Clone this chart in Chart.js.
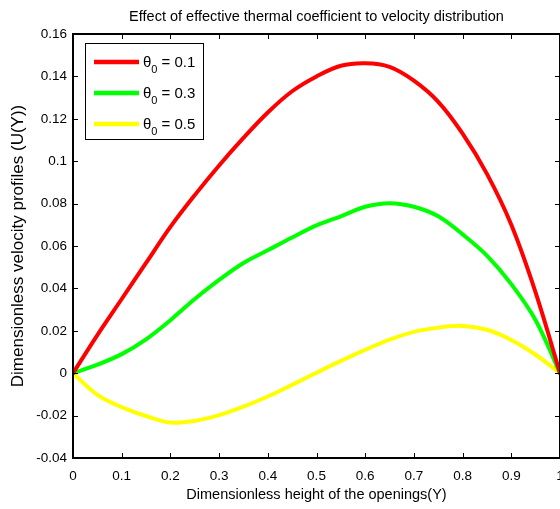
<!DOCTYPE html>
<html><head><meta charset="utf-8">
<script src="https://cdn.jsdelivr.net/npm/chart.js@4/dist/chart.umd.min.js"></script>
<style>
html,body{margin:0;padding:0;overflow:hidden;background:#fff;}
#wrap{width:560px;height:509px;overflow:hidden;position:relative;}
canvas{display:block;}
</style></head><body>
<div id="wrap"><canvas id="c" width="563" height="509"></canvas></div>
<script>
// ---- data ----
const yPositions = [0,0.05,0.1,0.15,0.2,0.25,0.3,0.35,0.4,0.45,0.5,0.55,0.6,0.65,0.7,0.75,0.8,0.85,0.9,0.95,1];
const thetaValues = [0.1, 0.3, 0.5];
const uTheta01 = [0,0.018,0.035,0.052,0.069,0.084,0.098,0.111,0.123,0.133,0.140,0.145,0.1462,0.1445,0.138,0.128,0.113,0.094,0.070,0.038,0];
const uTheta03 = [0,0.004,0.009,0.016,0.025,0.035,0.044,0.052,0.058,0.064,0.0697,0.074,0.0785,0.0802,0.0785,0.074,0.0655,0.0555,0.042,0.025,0];
const uTheta05 = [0,-0.0102,-0.016,-0.0202,-0.0233,-0.0225,-0.0198,-0.0158,-0.011,-0.0055,0.0002,0.0058,0.011,0.0158,0.0195,0.0215,0.0223,0.0205,0.0157,0.0087,0];
const seriesColors = ['#ff0000','#00ff00','#ffff00'];
const xTickValues = [0,0.1,0.2,0.3,0.4,0.5,0.6,0.7,0.8,0.9,1];
const xTickLabels = ['0','0.1','0.2','0.3','0.4','0.5','0.6','0.7','0.8','0.9','1'];
const yTickValues = [-0.04,-0.02,0,0.02,0.04,0.06,0.08,0.1,0.12,0.14,0.16];
const yTickLabels = ['-0.04','-0.02','0','0.02','0.04','0.06','0.08','0.1','0.12','0.14','0.16'];
const titleText = 'Effect of effective thermal coefficient to velocity distribution';
const xTitle = 'Dimensionless height of the openings(Y)';
const yTitle = 'Dimensionless velocity profiles (U(Y))';

const FONT = '"Liberation Sans", Arial, sans-serif';
const series = [uTheta01, uTheta03, uTheta05];

const datasets = series.map((vals, i) => ({
  label: 'θ\u2080 = ' + thetaValues[i],
  data: yPositions.map((x, j) => ({x: x, y: vals[j]})),
  borderColor: seriesColors[i],
  backgroundColor: seriesColors[i],
  borderWidth: 4,
  pointRadius: 0,
  fill: false,
  tension: 0.35,
  borderCapStyle: 'round',
  borderJoinStyle: 'round'
}));

const matlabAxes = {
  id: 'matlabAxes',
  afterLayout(chart) {
    const tb = chart.titleBlock;
    if (tb) { tb.left = chart.chartArea.left; tb.right = chart.chartArea.right; tb.width = tb.right - tb.left; }
  },
  afterDatasetsDraw(chart) {
    const {ctx, chartArea: a, scales} = chart;
    ctx.save();
    ctx.strokeStyle = '#000';
    // inward ticks
    ctx.lineWidth = 1;
    const tl = 5;
    ctx.beginPath();
    xTickValues.forEach(v => {
      const px = Math.round(scales.x.getPixelForValue(v)) + 0.5;
      ctx.moveTo(px, a.bottom); ctx.lineTo(px, a.bottom - tl);
      ctx.moveTo(px, a.top); ctx.lineTo(px, a.top + tl);
    });
    yTickValues.forEach(v => {
      const py = Math.round(scales.y.getPixelForValue(v)) + 0.5;
      ctx.moveTo(a.left, py); ctx.lineTo(a.left + tl, py);
      ctx.moveTo(a.right, py); ctx.lineTo(a.right - tl, py);
    });
    ctx.stroke();
    // box
    ctx.lineWidth = 2;
    ctx.strokeRect(a.left, a.top, a.right - a.left, a.bottom - a.top);

    // legend
    const lx = 85.5, ly = 43.5, lw = 118, lh = 96;
    ctx.fillStyle = '#fff';
    ctx.fillRect(lx, ly, lw, lh);
    ctx.lineWidth = 1;
    ctx.strokeRect(lx, ly, lw, lh);
    chart.data.datasets.forEach((ds, i) => {
      const ry = 62 + i * 31;
      ctx.strokeStyle = ds.borderColor;
      ctx.lineWidth = 4.5;
      ctx.lineCap = 'butt';
      ctx.beginPath(); ctx.moveTo(94, ry); ctx.lineTo(139, ry); ctx.stroke();
      ctx.fillStyle = '#000';
      ctx.textAlign = 'left';
      ctx.textBaseline = 'alphabetic';
      ctx.font = '15px ' + FONT;
      let x = 143;
      ctx.fillText('θ', x, ry + 5);
      x += ctx.measureText('θ').width;
      ctx.font = '11px ' + FONT;
      ctx.fillText('0', x, ry + 11);
      x += ctx.measureText('0').width + 4;
      ctx.font = '15px ' + FONT;
      ctx.fillText('= ' + thetaValues[i], x, ry + 5);
    });
    ctx.restore();
  }
};

new Chart(document.getElementById('c'), {
  type: 'line',
  data: {datasets},
  options: {
    responsive: false,
    animation: false,
    events: [],
    layout: {padding: {left: 0, right: 3, top: 0, bottom: 0}},
    plugins: {
      legend: {display: false},
      tooltip: {enabled: false},
      title: {
        display: true, text: titleText, color: '#000',
        font: {family: FONT, size: 14.5, weight: 'normal', lineHeight: 1.2},
        padding: {top: 8.5, bottom: 8.1}
      }
    },
    scales: {
      x: {
        type: 'linear', min: 0, max: 1,
        afterFit: s => { s.height = 51; s.paddingLeft = 0; s.paddingRight = 0; },
        afterBuildTicks: s => { s.ticks = xTickValues.map(v => ({value: v})); },
        grid: {display: false, drawTicks: false},
        border: {display: false},
        ticks: {
          color: '#000', padding: 10, maxRotation: 0, autoSkip: false,
          font: {family: FONT, size: 13.5},
          callback: (v, i) => xTickLabels[i]
        },
        title: {display: true, text: xTitle, color: '#000',
          font: {family: FONT, size: 14.5}, padding: {top: 0, bottom: 5.3}}
      },
      y: {
        type: 'linear', min: -0.04, max: 0.16,
        afterFit: s => { s.width = 73; s.paddingTop = 0; s.paddingBottom = 0; },
        afterBuildTicks: s => { s.ticks = yTickValues.map(v => ({value: v})); },
        grid: {display: false, drawTicks: false},
        border: {display: false},
        ticks: {
          color: '#000', padding: 6, autoSkip: false,
          font: {family: FONT, size: 13.5},
          callback: (v, i) => yTickLabels[i]
        },
        title: {display: true, text: yTitle, color: '#000',
          font: {family: FONT, size: 17}, padding: {top: 7.8, bottom: 0}}
      }
    }
  },
  plugins: [matlabAxes]
});
</script>
</body></html>
